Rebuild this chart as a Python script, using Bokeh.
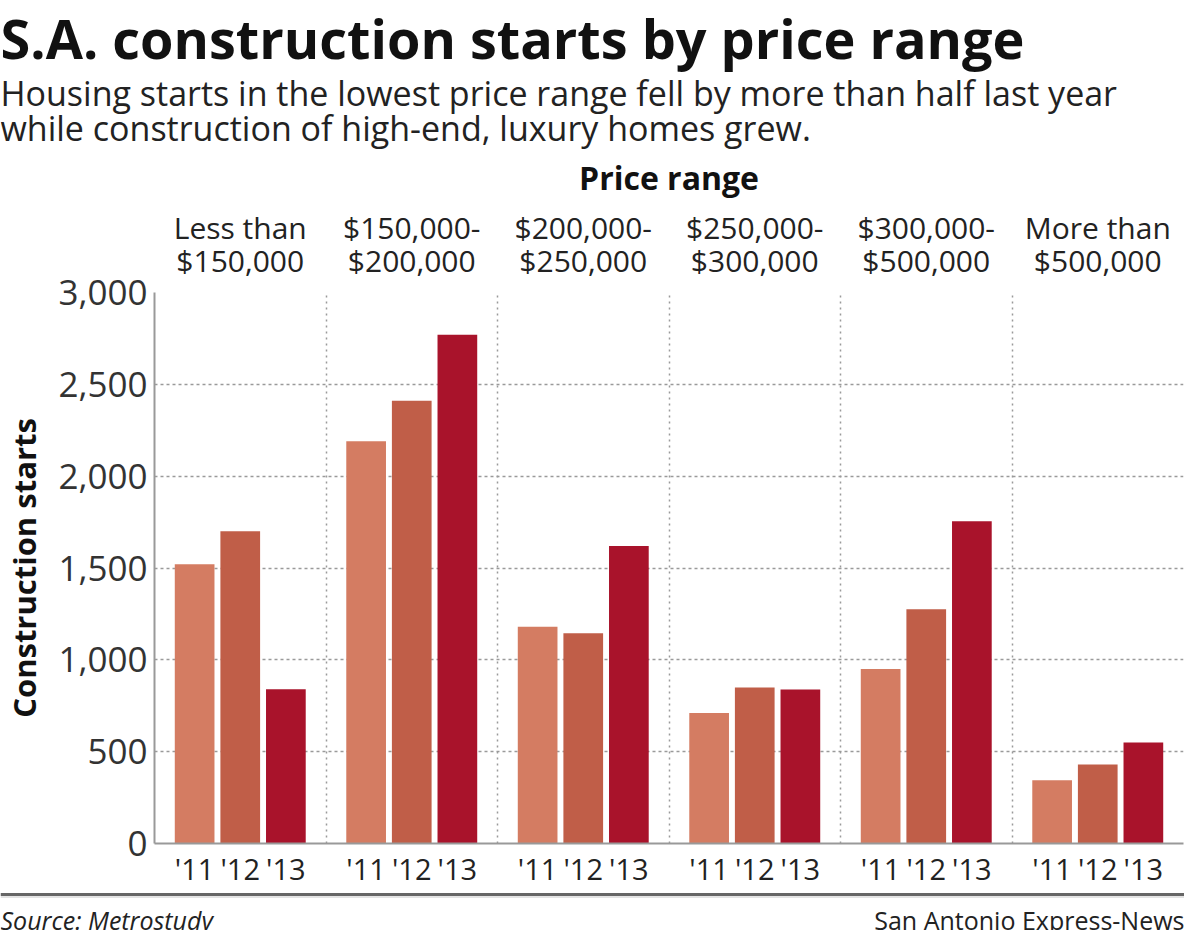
from bokeh.plotting import figure
from bokeh.models import (Range1d, LinearAxis, FixedTicker, Grid,
                          NumeralTickFormatter, ColumnDataSource)
from bokeh.transform import dodge
from bokeh.layouts import column
from bokeh.embed import file_html
from bokeh.resources import INLINE
from bokeh.core.properties import value

# ---------------- data ----------------
title = "S.A. construction starts by price range"
subtitle_lines = [
    "Housing starts in the lowest price range fell by more than half last year",
    "while construction of high-end, luxury homes grew.",
]
axis_group_title = "Price range"
y_axis_title = "Construction starts"
groups = ["Less than\n$150,000", "$150,000-\n$200,000", "$200,000-\n$250,000",
          "$250,000-\n$300,000", "$300,000-\n$500,000", "More than\n$500,000"]
years = ["'11", "'12", "'13"]
starts_2011 = [1520, 2190, 1180, 710, 950, 345]
starts_2012 = [1700, 2410, 1145, 850, 1275, 430]
starts_2013 = [840, 2770, 1620, 838, 1755, 550]
y_ticks = [0, 500, 1000, 1500, 2000, 2500, 3000]
source_note = "Source: Metrostudy"
credit = "San Antonio Express-News"

# ---------------- styles ----------------
FONT = value("Open Sans")
W = 1184
colors = ["#D47C62", "#C05E48", "#A9132B"]
offsets = [-0.266, 0.0, 0.266]
bar_w = 0.2315
grid_col = "#9a9a9a"


def bare(h):
    f = figure(width=W, height=h, x_range=Range1d(0, W), y_range=Range1d(h, 0),
               title=None, x_axis_location=None, y_axis_location=None,
               min_border=0, min_border_left=0, min_border_right=0,
               min_border_top=0, min_border_bottom=0, frame_align=False,
               output_backend="svg", toolbar_location=None)
    f.grid.visible = False
    f.outline_line_color = None
    return f


# ---------------- header ----------------
HH = 152
header = bare(HH)
header.text(x=[0], y=[37], text=[title], text_font=FONT, text_font_style="bold",
            text_font_size="54px", text_baseline="alphabetic", text_line_height=1.0,
            text_color="#111111")
header.text(x=[0, 0], y=[92, 127], text=subtitle_lines, text_font=FONT,
            text_font_size="34px", text_baseline="alphabetic", text_line_height=1.0,
            text_color="#222222")

# ---------------- main chart ----------------
n = len(groups)
centers = [i + 0.5 for i in range(n)]          # slot centre of each price range
src = ColumnDataSource(dict(pos=centers, y11=starts_2011, y12=starts_2012, y13=starts_2013))

main = figure(width=W, height=738, x_range=Range1d(0, n), y_range=Range1d(0, 3000),
              title=None, x_axis_location="above", frame_align=False,
              min_border_left=147, min_border_right=1, min_border_top=130,
              min_border_bottom=40, output_backend="svg", toolbar_location=None)
main.outline_line_color = None
main.xgrid.visible = False
main.ygrid.grid_line_color = grid_col
main.ygrid.grid_line_dash = "3 3"
main.ygrid.grid_line_width = 1.5

sep = Grid(dimension=0, ticker=FixedTicker(ticks=list(range(1, n + 1))),
           grid_line_color=grid_col, grid_line_dash="2 4", grid_line_width=1.5)
main.add_layout(sep)

for col, off, c in zip(["y11", "y12", "y13"], offsets, colors):
    main.vbar(x=dodge("pos", off), top=col, width=bar_w,
              fill_color=c, line_color=None, source=src)

top_axis = main.xaxis[0]
top_axis.ticker = FixedTicker(ticks=centers)
top_axis.major_label_overrides = {c: g for c, g in zip(centers, groups)}
top_axis.axis_label = axis_group_title
top_axis.axis_label_text_font = "Open Sans"
top_axis.axis_label_text_font_style = "bold"
top_axis.axis_label_text_font_size = "32px"
top_axis.axis_label_text_line_height = 1.0
top_axis.axis_label_text_color = "#111111"
top_axis.axis_label_standoff = 5
top_axis.major_label_text_font = "Open Sans"
top_axis.major_label_text_font_size = "30px"
top_axis.major_label_text_line_height = 0.8
top_axis.major_label_text_color = "#222222"
top_axis.major_label_standoff = 12
top_axis.axis_line_color = None
top_axis.major_tick_line_color = None
top_axis.minor_tick_line_color = None
top_axis.major_tick_out = 0
top_axis.major_tick_in = 0
top_axis.minor_tick_out = 0

ya = main.yaxis[0]
ya.ticker = FixedTicker(ticks=y_ticks)
ya.formatter = NumeralTickFormatter(format="0,0")
ya.axis_label = y_axis_title
ya.axis_label_text_font = "Open Sans"
ya.axis_label_text_font_style = "bold"
ya.axis_label_text_font_size = "31px"
ya.axis_label_text_line_height = 0.8
ya.axis_label_text_color = "#111111"
ya.axis_label_standoff = 10
ya.major_label_text_font = "Open Sans"
ya.major_label_text_font_size = "35px"
ya.major_label_text_color = "#333333"
ya.major_label_standoff = 7
ya.axis_line_color = "#999999"
ya.axis_line_width = 2
ya.major_tick_line_color = None
ya.minor_tick_line_color = None
ya.major_tick_out = 0
ya.major_tick_in = 0
ya.minor_tick_out = 0

ticks, overrides = [], {}
for c in centers:
    for off, yr in zip(offsets, years):
        t = round(c + off, 4)
        ticks.append(t)
        overrides[t] = yr
bottom = LinearAxis(ticker=FixedTicker(ticks=ticks), major_label_overrides=overrides)
bottom.major_label_text_font = "Open Sans"
bottom.major_label_text_font_size = "29px"
bottom.major_label_text_line_height = 0.8
bottom.major_label_text_color = "#222222"
bottom.major_label_standoff = 5
bottom.axis_line_color = "#999999"
bottom.axis_line_width = 2
bottom.major_tick_line_color = None
bottom.minor_tick_line_color = None
bottom.major_tick_out = 0
bottom.major_tick_in = 0
bottom.minor_tick_out = 0
main.add_layout(bottom, "below")

# ---------------- footer ----------------
FH = 40
footer = bare(FH)
footer.segment(x0=[0], y0=[4], x1=[W], y1=[4], line_width=3, line_color="#666666")
footer.segment(x0=[0], y0=[6.5], x1=[W], y1=[6.5], line_width=1, line_color="#c8c8c8")
footer.text(x=[0], y=[29], text=[source_note], text_font=FONT, text_font_style="italic",
            text_font_size="25px", text_baseline="alphabetic", text_line_height=1.0,
            text_color="#222222")
footer.text(x=[W], y=[29], text=[credit], text_font=FONT, text_align="right",
            text_font_size="25px", text_baseline="alphabetic", text_line_height=1.0,
            text_color="#222222")

layout = column(header, main, footer, spacing=0)
open("out.html", "w").write(file_html(layout, INLINE))
